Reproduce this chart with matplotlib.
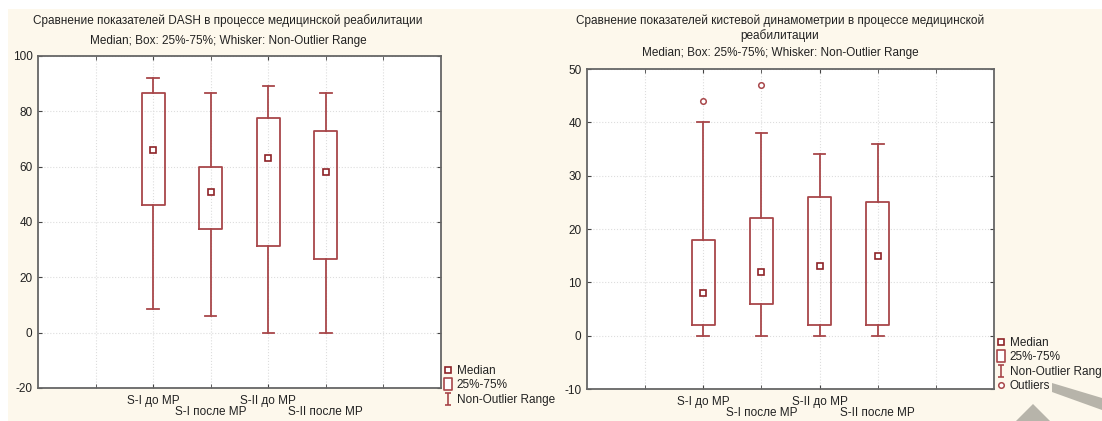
import numpy as np
import matplotlib.pyplot as plt
from matplotlib.lines import Line2D
from matplotlib.path import Path
from matplotlib.patches import Rectangle, Polygon

plt.rcParams['font.family'] = ['Liberation Sans', 'DejaVu Sans']
plt.rcParams['axes.unicode_minus'] = False

groups = ['S-I до МР', 'S-I после МР', 'S-II до МР', 'S-II после МР']

# DASH
dash_med = [66, 51, 63, 58]
dash_q1 = [46, 37.5, 31.5, 26.5]
dash_q3 = [86.5, 60, 77.5, 73]
dash_lo = [8.5, 6, 0, 0]
dash_hi = [92, 86.5, 89, 86.5]
dash_out = [[], [], [], []]

# кистевая динамометрия
dyn_med = [8, 12, 13, 15]
dyn_q1 = [2, 6, 2, 2]
dyn_q3 = [18, 22, 26, 25]
dyn_lo = [0, 0, 0, 0]
dyn_hi = [40, 38, 34, 36]
dyn_out = [[44], [47], [], []]

red = '#a8474a'
dark = '#8e2327'
txt = '#222222'

fig = plt.figure(figsize=(11.02, 4.21), dpi=100)
fig.patch.set_facecolor('white')
fig.patches.append(Rectangle((8 / 1102, 0), 1, 1 - 9 / 421, transform=fig.transFigure,
                             facecolor='#fdf8ec', edgecolor='none', zorder=-10))

ibeam = Path([(-0.5, 1), (0.5, 1), (0, 1), (0, -1), (-0.5, -1), (0.5, -1)],
             [Path.MOVETO, Path.LINETO, Path.MOVETO, Path.LINETO, Path.MOVETO, Path.LINETO])
rect = Path([(-0.35, -0.5), (0.35, -0.5), (0.35, 0.5), (-0.35, 0.5), (-0.35, -0.5)],
            [Path.MOVETO, Path.LINETO, Path.LINETO, Path.LINETO, Path.CLOSEPOLY])


def draw(ax, med, q1, q3, lo, hi, out, ylim, yticks):
    pos = [2, 3, 4, 5]
    stats = []
    for i in range(len(med)):
        stats.append(dict(med=med[i], q1=q1[i], q3=q3[i], whislo=lo[i], whishi=hi[i],
                          fliers=out[i]))
    ax.bxp(stats, positions=pos, widths=0.4, capwidths=0.2,
           boxprops=dict(color=red, lw=1.3),
           whiskerprops=dict(color=red, lw=1.3),
           capprops=dict(color=red, lw=1.3),
           medianprops=dict(visible=False),
           flierprops=dict(marker='o', ms=4, mfc='white', mec=red, mew=1.1))
    ax.plot(pos, med, ls='none', marker='s', ms=4.5, mfc='white', mec=dark, mew=1.2, zorder=5)
    ax.set_xlim(0, 7)
    ax.set_ylim(*ylim)
    ax.set_yticks(yticks)
    # two rows of category labels: first row on major ticks, second on minor
    ax.set_xticks([2, 4])
    ax.set_xticklabels([groups[0], groups[2]], color=txt, fontsize=8.5)
    ax.set_xticks([1, 3, 5, 6], minor=True)
    ax.set_xticklabels(['', groups[1], groups[3], ''], minor=True, color=txt, fontsize=8.5)
    ax.tick_params(which='both', direction='in', length=3, top=True, right=True,
                   labelsize=8.5, labelcolor=txt, color='#444444', pad=4)
    ax.tick_params(axis='x', which='major', pad=5)
    ax.tick_params(axis='x', which='minor', pad=13)
    ax.grid(True, which='both', color='#dddddd', ls=':', lw=0.8)
    ax.set_axisbelow(True)
    for s in ax.spines.values():
        s.set_color('#666666')
        s.set_linewidth(1.3)


ax1 = fig.add_axes([38 / 1102, 1 - 388 / 421, 403 / 1102, 332 / 421])
draw(ax1, dash_med, dash_q1, dash_q3, dash_lo, dash_hi, dash_out, (-20, 100), range(-20, 101, 20))

ax2 = fig.add_axes([587 / 1102, 1 - 389 / 421, 407 / 1102, 320 / 421])
draw(ax2, dyn_med, dyn_q1, dyn_q3, dyn_lo, dyn_hi, dyn_out, (-10, 50), range(-10, 51, 10))

fig.text(228 / 1102, 1 - 21 / 421, 'Сравнение показателей DASH в процессе медицинской реабилитации',
         ha='center', va='center', fontsize=8.5, color=txt)
fig.text(228 / 1102, 1 - 41 / 421, 'Median; Box: 25%-75%; Whisker: Non-Outlier Range',
         ha='center', va='center', fontsize=8.5, color=txt)
fig.text(780 / 1102, 1 - 28.5 / 421,
         'Сравнение показателей кистевой динамометрии в процессе медицинской\nреабилитации',
         ha='center', va='center', fontsize=8.5, color=txt, linespacing=1.25)
fig.text(780 / 1102, 1 - 53 / 421, 'Median; Box: 25%-75%; Whisker: Non-Outlier Range',
         ha='center', va='center', fontsize=8.5, color=txt)

h_med = Line2D([], [], ls='none', marker='s', ms=4.5, mfc='white', mec=dark, mew=1.2)
h_box = Line2D([], [], ls='none', marker=rect, ms=9, mfc='white', mec=red, mew=1.2)
h_rng = Line2D([], [], ls='none', marker=ibeam, ms=8, mfc='none', mec=red, mew=1.2)
h_out = Line2D([], [], ls='none', marker='o', ms=4, mfc='white', mec=red, mew=1.1)

leg_kw = dict(frameon=False, fontsize=8.5, handlelength=0.8, handletextpad=0.35,
              labelspacing=0.2, borderpad=0, borderaxespad=0, labelcolor=txt)
fig.legend([h_med, h_box, h_rng], ['Median', '25%-75%', 'Non-Outlier Range'],
           loc='upper left', bbox_to_anchor=(443 / 1102, 1 - 365 / 421), **leg_kw)
fig.legend([h_med, h_box, h_rng, h_out], ['Median', '25%-75%', 'Non-Outlier Range', 'Outliers'],
           loc='upper left', bbox_to_anchor=(996 / 1102, 1 - 337 / 421), **leg_kw)

# grey arrow fragment in the corner
W, H = 1102, 421
band = [(1052, 383), (1102, 398), (1102, 410), (1052, 392)]
tri = [(1033, 404), (1050, 421), (1016, 421)]
for pts in (band, tri):
    fig.patches.append(Polygon([(x / W, 1 - y / H) for x, y in pts], closed=True,
                               transform=fig.transFigure, facecolor='#b7b4aa',
                               edgecolor='none', zorder=10))

fig.savefig('out.png', dpi=100, facecolor=fig.get_facecolor())
